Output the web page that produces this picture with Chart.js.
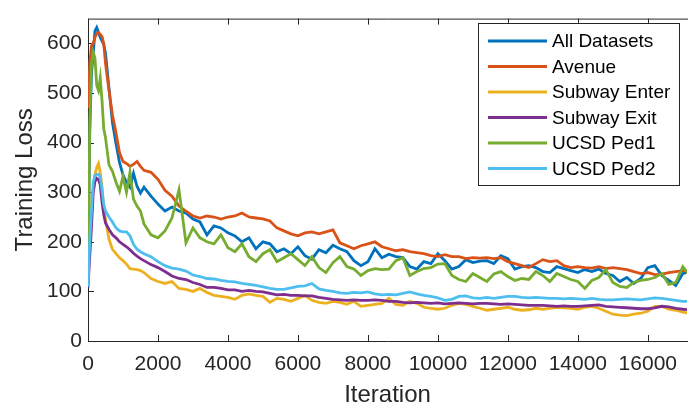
<!DOCTYPE html>
<html>
<head>
<meta charset="utf-8">
<script src="https://cdn.jsdelivr.net/npm/chart.js@4.4.1/dist/chart.umd.min.js"></script>
<style>
  html, body { margin: 0; padding: 0; background: #fff; }
  canvas { display: block; }
</style>
</head>
<body>
<canvas id="chartLoss" width="688" height="408"></canvas>
<script>
const iterations = [0, 50, 100, 150, 200, 250, 300, 350, 400, 450, 500, 600, 700, 800, 900, 1000, 1100, 1200, 1300, 1400, 1500, 1600,
    1800, 2000, 2200, 2400, 2600, 2800, 3000, 3200, 3400, 3600, 3800, 4000, 4200, 4400, 4600, 4800, 5000, 5200, 5400, 5600, 5800,
    6000, 6200, 6400, 6600, 6800, 7000, 7200, 7400, 7600, 7800, 8000, 8200, 8400, 8600, 8800, 9000, 9200, 9400, 9600, 9800,
    10000, 10200, 10400, 10600, 10800, 11000, 11200, 11400, 11600, 11800, 12000, 12200, 12400, 12600, 12800, 13000, 13200, 13400,
    13600, 13800, 14000, 14200, 14400, 14600, 14800, 15000, 15200, 15400, 15600, 15800, 16000, 16200, 16400, 16600, 16800, 17000, 17200];

const allDatasets = [150, 420, 540, 580, 625, 632, 622, 612, 605, 598, 580, 510, 440, 398, 360, 335, 320, 310, 338, 312, 298, 310,
    292, 276, 262, 270, 262, 258, 246, 240, 214, 232, 228, 218, 212, 200, 208, 186, 200, 196, 180, 186, 176,
    190, 172, 165, 184, 178, 193, 186, 180, 162, 152, 160, 186, 168, 175, 170, 168, 150, 145, 160, 156,
    176, 162, 145, 150, 164, 158, 161, 162, 156, 172, 166, 145, 150, 152, 148, 140, 138, 150,
    146, 142, 138, 144, 140, 145, 136, 132, 120, 128, 116, 126, 148, 152, 132, 122, 112, 136, 140];

const avenue = [470, 560, 595, 600, 612, 620, 622, 618, 614, 600, 560, 505, 455, 420, 380, 362, 358, 352, 356, 362, 352, 344,
    340, 326, 304, 292, 272, 262, 252, 248, 252, 250, 246, 250, 252, 258, 250, 248, 246, 242, 228, 222, 216,
    212, 218, 220, 216, 220, 224, 198, 192, 186, 192, 196, 200, 190, 186, 182, 184, 180, 178, 176, 172,
    170, 174, 170, 170, 166, 168, 167, 168, 166, 168, 160, 156, 152, 148, 156, 164, 160, 162,
    152, 148, 150, 148, 147, 150, 146, 148, 146, 144, 140, 136, 138, 134, 135, 138, 140, 142, 140];

const subwayEnter = [140, 220, 280, 305, 335, 350, 358, 340, 310, 270, 245, 205, 185, 176, 168, 162, 155, 146, 145, 144, 142, 138,
    126, 120, 116, 120, 106, 104, 100, 106, 98, 92, 90, 88, 84, 92, 95, 92, 90, 78, 86, 84, 80,
    86, 92, 82, 78, 76, 80, 78, 74, 80, 70, 72, 74, 76, 86, 74, 72, 80, 76, 68, 66,
    64, 66, 72, 76, 74, 70, 66, 62, 64, 66, 68, 64, 62, 63, 66, 64, 66, 68,
    67, 66, 64, 68, 70, 66, 60, 54, 52, 51, 54, 56, 60, 70, 70, 64, 62, 58, 56];

const subwayExit = [108, 170, 230, 300, 322, 328, 325, 315, 280, 255, 238, 225, 214, 208, 200, 195, 190, 184, 177, 171, 166, 162,
    154, 148, 140, 131, 126, 124, 118, 114, 108, 108, 106, 103, 103, 100, 102, 100, 99, 96, 93, 94, 92,
    92, 91, 91, 88, 86, 84, 83, 82, 83, 82, 82, 83, 82, 80, 80, 78, 77, 78, 77, 76,
    77, 75, 76, 77, 76, 75, 76, 76, 75, 74, 75, 74, 73, 72, 72, 72, 71, 70,
    71, 70, 70, 71, 72, 73, 70, 69, 68, 67, 66, 65, 65, 67, 70, 69, 66, 64, 63];

const ucsdPed1 = [120, 440, 560, 582, 570, 515, 505, 530, 485, 428, 410, 355, 342, 320, 302, 332, 300, 340, 286, 272, 262, 236,
    214, 208, 222, 248, 305, 198, 228, 208, 200, 196, 214, 188, 180, 196, 170, 160, 176, 184, 160, 168, 176,
    164, 152, 170, 148, 138, 158, 170, 150, 145, 132, 142, 146, 144, 145, 162, 168, 132, 140, 146, 148,
    155, 156, 132, 124, 120, 136, 128, 120, 135, 140, 130, 122, 126, 124, 140, 132, 120, 136,
    130, 124, 120, 106, 122, 128, 144, 118, 110, 108, 118, 122, 124, 128, 136, 114, 118, 150, 132];

const ucsdPed2 = [110, 200, 262, 320, 334, 336, 336, 330, 305, 275, 262, 250, 240, 228, 222, 220, 220, 212, 195, 185, 180, 176,
    170, 160, 152, 147, 145, 141, 133, 130, 126, 125, 122, 120, 119, 116, 114, 112, 109, 106, 104, 104, 107,
    110, 111, 116, 105, 102, 100, 97, 96, 98, 97, 99, 95, 93, 94, 93, 96, 99, 95, 92, 90,
    87, 82, 84, 90, 91, 87, 86, 88, 86, 88, 90, 90, 88, 87, 88, 87, 86, 86,
    85, 86, 85, 84, 86, 84, 83, 83, 84, 85, 84, 83, 85, 87, 86, 84, 82, 80, 80];

const seriesNames = ['All Datasets', 'Avenue', 'Subway Enter', 'Subway Exit', 'UCSD Ped1', 'UCSD Ped2'];
const seriesValues = [allDatasets, avenue, subwayEnter, subwayExit, ucsdPed1, ucsdPed2];
const seriesColors = ['#0072BD', '#D95319', '#EDB120', '#7E2F8E', '#77AC30', '#4DBEEE'];
const xTicks = [0, 2000, 4000, 6000, 8000, 10000, 12000, 14000, 16000];
const yTicks = [0, 100, 200, 300, 400, 500, 600];

const FONT = "'Liberation Sans', Arial, Helvetica, sans-serif";
const INK = '#262626';

// box + inward tick marks, matlab style
const axesBox = {
    id: 'axesBox',
    beforeDatasetsDraw(chart) {
        const { ctx, chartArea: a, scales } = chart;
        ctx.save();
        ctx.strokeStyle = INK;
        ctx.lineWidth = 1;
        ctx.beginPath();
        ctx.moveTo(a.left + 0.5, a.top + 0.5);
        ctx.lineTo(a.left + 0.5, a.bottom + 0.5);
        ctx.lineTo(a.right + 2, a.bottom + 0.5);
        ctx.moveTo(a.left + 0.5, a.top + 0.5);
        ctx.lineTo(a.right + 2, a.top + 0.5);
        xTicks.forEach(v => {
            const px = Math.round(scales.x.getPixelForValue(v)) + 0.5;
            ctx.moveTo(px, a.bottom);
            ctx.lineTo(px, a.bottom - 6);
            ctx.moveTo(px, a.top);
            ctx.lineTo(px, a.top + 6);
        });
        yTicks.forEach(v => {
            const py = Math.round(scales.y.getPixelForValue(v)) + 0.5;
            ctx.moveTo(a.left, py);
            ctx.lineTo(a.left + 6, py);
        });
        ctx.stroke();
        ctx.restore();
    }
};

const boxLegend = {
    id: 'boxLegend',
    afterDraw(chart) {
        const ctx = chart.ctx;
        ctx.save();
        ctx.fillStyle = '#fff';
        ctx.fillRect(478, 23, 201, 162);
        ctx.strokeStyle = INK;
        ctx.lineWidth = 1;
        ctx.strokeRect(478.5, 23.5, 201, 162);
        ctx.font = '19px ' + FONT;
        ctx.textBaseline = 'middle';
        chart.data.datasets.forEach((ds, i) => {
            const yy = 41 + i * 25.5;
            ctx.strokeStyle = ds.borderColor;
            ctx.lineWidth = 3;
            ctx.beginPath();
            ctx.moveTo(488, yy);
            ctx.lineTo(547, yy);
            ctx.stroke();
            ctx.fillStyle = '#000';
            ctx.fillText(ds.label, 552, yy + 1);
        });
        ctx.restore();
    }
};

document.addEventListener('DOMContentLoaded', function () {
    const ctxLoss = document.getElementById('chartLoss');
    new Chart(ctxLoss, {
        type: 'line',
        data: {
            datasets: seriesNames.map((name, i) => ({
                label: name,
                data: iterations.map((it, k) => ({ x: it, y: seriesValues[i][k] })),
                borderColor: seriesColors[i],
                backgroundColor: seriesColors[i],
                borderWidth: 2.8,
                pointRadius: 0,
                tension: 0,
                order: seriesNames.length - i
            }))
        },
        options: {
            responsive: false,
            devicePixelRatio: 1,
            animation: false,
            layout: { padding: { top: 6, right: 0, left: 0, bottom: 0 } },
            plugins: {
                legend: { display: false },
                tooltip: { enabled: false }
            },
            scales: {
                x: {
                    type: 'linear',
                    min: 0,
                    max: 17120,
                    afterFit: s => { s.height = 67; },
                    afterBuildTicks: s => { s.ticks = xTicks.map(v => ({ value: v })); },
                    grid: { display: false, drawTicks: false },
                    border: { display: false },
                    ticks: {
                        autoSkip: false,
                        maxRotation: 0,
                        padding: 11,
                        color: INK,
                        font: { family: FONT, size: 21 },
                        callback: v => String(v)
                    },
                    title: {
                        display: true,
                        text: 'Iteration',
                        color: INK,
                        padding: { top: 0, bottom: -2 },
                        font: { family: FONT, size: 24 }
                    }
                },
                y: {
                    min: 0,
                    max: 650,
                    afterFit: s => { s.width = 88; },
                    afterBuildTicks: s => { s.ticks = yTicks.map(v => ({ value: v })); },
                    grid: { display: false, drawTicks: false },
                    border: { display: false },
                    ticks: {
                        padding: 6,
                        color: INK,
                        font: { family: FONT, size: 21 },
                        callback: v => String(v)
                    },
                    title: {
                        display: true,
                        text: 'Training Loss',
                        color: INK,
                        padding: { top: 11, bottom: 0 },
                        font: { family: FONT, size: 24 }
                    }
                }
            }
        },
        plugins: [axesBox, boxLegend]
    });
});
</script>
</body>
</html>
